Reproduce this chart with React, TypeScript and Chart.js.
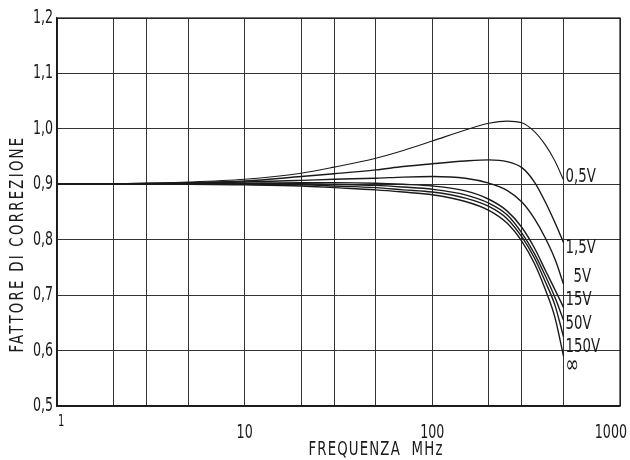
import React, { useEffect, useRef } from "react";
import { Chart, registerables } from "chart.js";

Chart.register(...registerables);

const frequencies = [1, 2, 5, 10, 20, 30, 50, 70, 100, 150, 200, 250, 300, 350, 400, 450, 500];

const series05V = [0.9, 0.901, 0.904, 0.909, 0.92, 0.931, 0.947, 0.961, 0.978, 0.998, 1.01, 1.014, 1.011, 0.995, 0.971, 0.942, 0.908];
const series15V = [0.9, 0.901, 0.903, 0.906, 0.914, 0.919, 0.926, 0.932, 0.937, 0.942, 0.944, 0.941, 0.93, 0.904, 0.868, 0.831, 0.795];
const series5V = [0.9, 0.9, 0.902, 0.904, 0.907, 0.909, 0.911, 0.913, 0.914, 0.911, 0.902, 0.889, 0.868, 0.838, 0.803, 0.765, 0.72];
const series15Vb = [0.9, 0.9, 0.901, 0.902, 0.903, 0.903, 0.902, 0.9, 0.897, 0.888, 0.873, 0.852, 0.822, 0.785, 0.745, 0.71, 0.678];
const series50V = [0.9, 0.9, 0.901, 0.901, 0.901, 0.9, 0.898, 0.895, 0.891, 0.881, 0.866, 0.845, 0.812, 0.775, 0.735, 0.696, 0.655];
const series150V = [0.9, 0.9, 0.9, 0.9, 0.899, 0.897, 0.894, 0.89, 0.886, 0.875, 0.86, 0.838, 0.805, 0.767, 0.724, 0.682, 0.625];
const seriesInf = [0.9, 0.9, 0.9, 0.899, 0.897, 0.894, 0.89, 0.886, 0.881, 0.869, 0.853, 0.83, 0.797, 0.757, 0.71, 0.66, 0.59];

const seriesLabels = ["0,5V", "1,5V", "5V", "15V", "50V", "150V", "\u221E"];
const labelValues = [0.913, 0.785, 0.733, 0.691, 0.648, 0.606, 0.572];

const gridFrequencies = [1, 2, 3, 5, 10, 20, 30, 50, 100, 200, 300, 500, 1000];
const xTickLabels = ["1", "10", "100", "1000"];
const xTickValues = [1, 10, 100, 1000];

const xTitle = "FREQUENZA  MHz";
const yTitle = "FATTORE DI CORREZIONE";

const FONT = '"DejaVu Sans Condensed", "Liberation Sans Narrow", sans-serif';
const INK = "#1a1a1a";
const SQUEEZE = 0.74;

function drawNarrow(ctx: any, text: string, x: number, y: number, size: number, align: string, targetWidth?: number) {
  ctx.save();
  ctx.font = `${size}px ${FONT}`;
  ctx.textBaseline = "middle";
  ctx.textAlign = align;
  if (targetWidth) {
    ctx.letterSpacing = "0px";
    const w0 = ctx.measureText(text).width;
    const ls = Math.max(0, (targetWidth / SQUEEZE - w0) / text.length);
    ctx.letterSpacing = `${ls}px`;
  }
  ctx.translate(x, y);
  ctx.scale(SQUEEZE, 1);
  ctx.fillText(text, 0, 0);
  ctx.restore();
}

export default function App() {
  const ref = useRef<HTMLCanvasElement | null>(null);

  useEffect(() => {
    if (!ref.current) return;
    const allSeries = [series05V, series15V, series5V, series15Vb, series50V, series150V, seriesInf];

    const labelPlugin = {
      id: "labelPlugin",
      afterDraw(chart: any) {
        const ctx = chart.ctx;
        const xs = chart.scales.x;
        const ys = chart.scales.y;
        const area = chart.chartArea;
        ctx.save();
        ctx.fillStyle = INK;
        // y tick labels
        ys.ticks.forEach((t: any) => {
          const lab = Number(t.value).toFixed(1).replace(".", ",");
          drawNarrow(ctx, lab, area.left - 4, ys.getPixelForValue(t.value), 19, "right");
        });
        // curve labels
        seriesLabels.forEach((lab, i) => {
          const xp = xs.getPixelForValue(frequencies[frequencies.length - 1]) + 2;
          const yp = ys.getPixelForValue(labelValues[i]);
          drawNarrow(ctx, lab, xp + (lab === "5V" ? 8 : 0), yp, lab === "\u221E" ? 24 : 20, "left");
        });
        // x tick labels
        xTickValues.forEach((v, i) => {
          const xp = xs.getPixelForValue(v);
          if (v === 1) {
            drawNarrow(ctx, xTickLabels[i], xp + 1, area.bottom + 16, 15, "left");
          } else if (v === 1000) {
            drawNarrow(ctx, xTickLabels[i], xp + 7, area.bottom + 27, 19, "right");
          } else {
            drawNarrow(ctx, xTickLabels[i], xp, area.bottom + 27, 19, "center");
          }
        });
        // x title
        drawNarrow(ctx, xTitle, 376, area.bottom + 44, 20, "center", 135);
        // y title
        ctx.save();
        ctx.translate(17.5, 244);
        ctx.rotate(-Math.PI / 2);
        drawNarrow(ctx, yTitle, 0, 0, 20, "center", 217);
        ctx.restore();
        ctx.restore();
      },
    };

    const chart = new Chart(ref.current, {
      type: "line",
      data: {
        labels: frequencies,
        datasets: allSeries.map((s, i) => ({
          label: seriesLabels[i],
          data: s.map((v, j) => ({ x: frequencies[j], y: v })),
          borderColor: INK,
          borderWidth: i === 0 ? 1.1 : 1.4,
          pointRadius: 0,
          fill: false,
          cubicInterpolationMode: "monotone" as const,
        })),
      },
      options: {
        animation: false,
        responsive: false,
        layout: { padding: { top: 18, right: 10, left: 0, bottom: 0 } },
        plugins: { legend: { display: false }, tooltip: { enabled: false } },
        scales: {
          x: {
            type: "logarithmic",
            min: 1,
            max: 1000,
            afterBuildTicks(scale: any) {
              scale.ticks = gridFrequencies.map((v) => ({ value: v }));
            },
            afterFit(scale: any) {
              scale.height = 54;
            },
            ticks: { display: false },
            grid: { color: "#333", lineWidth: 1, drawTicks: false },
            border: { color: INK, width: 1.2 },
          },
          y: {
            min: 0.5,
            max: 1.2,
            afterFit(scale: any) {
              scale.width = 57;
            },
            ticks: { stepSize: 0.1, display: false },
            grid: { color: "#333", lineWidth: 1, drawTicks: false },
            border: { color: INK, width: 1.2 },
          },
        },
      },
      plugins: [
        labelPlugin,
        {
          id: "frame",
          afterDraw(chart: any) {
            const { ctx, chartArea: a } = chart;
            ctx.save();
            ctx.strokeStyle = INK;
            ctx.lineWidth = 1.2;
            ctx.strokeRect(a.left, a.top, a.right - a.left, a.bottom - a.top);
            ctx.restore();
          },
        },
      ],
    } as any);
    return () => chart.destroy();
  }, []);

  return (
    <div style={{ position: "fixed", left: 0, top: 0, width: 630, height: 460, background: "#fff" }}>
      <canvas ref={ref} width={630} height={460} />
    </div>
  );
}
